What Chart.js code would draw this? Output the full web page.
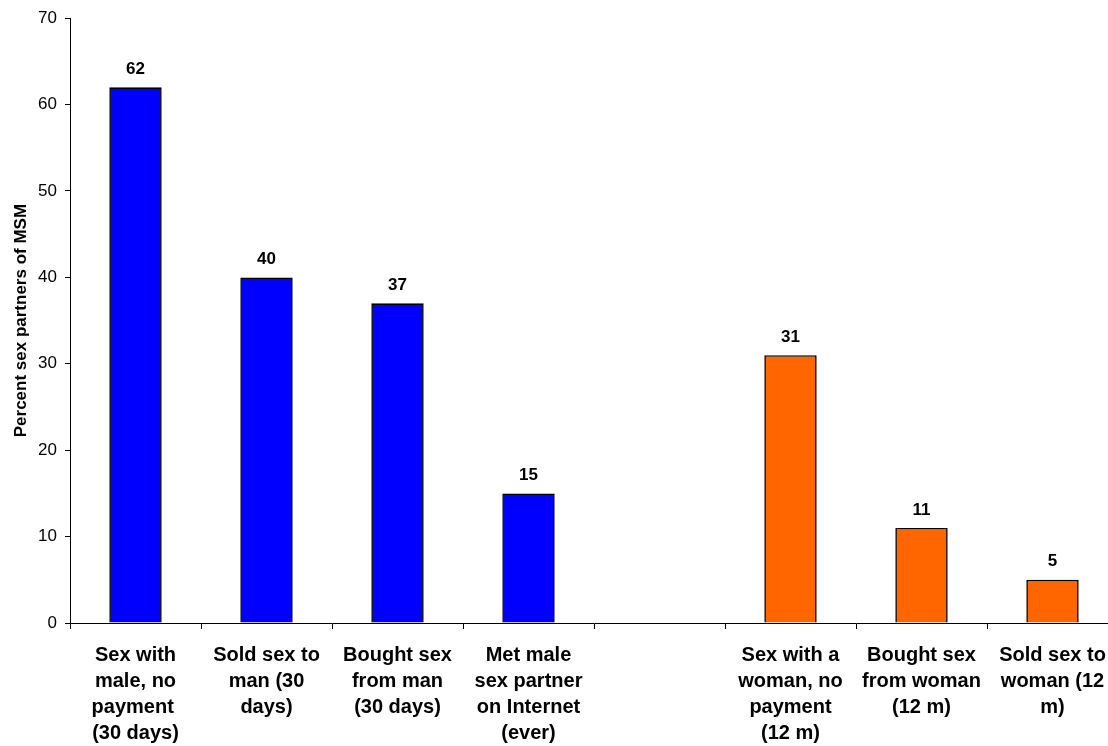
<!DOCTYPE html>
<html>
<head>
<meta charset="utf-8">
<script src="https://cdn.jsdelivr.net/npm/chart.js@4/dist/chart.umd.min.js"></script>
<style>
html,body{margin:0;padding:0;background:#fff;overflow:hidden;}
#wrap{width:1120px;height:746px;}
</style>
</head>
<body>
<div id="wrap"><canvas id="c" width="1120" height="746"></canvas></div>
<script>
const categories = [
  ["Sex with","male, no","payment ","(30 days)"],
  ["Sold sex to","man (30","days)"],
  ["Bought sex","from man","(30 days)"],
  ["Met male","sex partner","on Internet","(ever)"],
  "",
  ["Sex with a","woman, no","payment","(12 m)"],
  ["Bought sex","from woman","(12 m)"],
  ["Sold sex to","woman (12","m)"]
];
const values = [62, 40, 37, 15, null, 31, 11, 5];
const barColors = ["#0000FF","#0000FF","#0000FF","#0000FF","#0000FF","#FF6600","#FF6600","#FF6600"];
const yTitle = "Percent sex partners of MSM";
const yMin = 0, yMax = 70, yStep = 10;

const FONT = "'Liberation Sans', Arial, sans-serif";

const valueLabels = {
  id: 'valueLabels',
  afterDatasetsDraw(chart) {
    const ctx = chart.ctx;
    const meta = chart.getDatasetMeta(0);
    ctx.save();
    ctx.font = "bold 17px " + FONT;
    ctx.fillStyle = "#000";
    ctx.textAlign = "center";
    ctx.textBaseline = "middle";
    meta.data.forEach((bar, i) => {
      const v = values[i];
      if (v === null || v === undefined) return;
      ctx.fillText(String(v), bar.x, bar.y - 18);
    });
    ctx.restore();
  }
};

new Chart(document.getElementById('c'), {
  type: 'bar',
  data: {
    labels: categories,
    datasets: [{
      data: values,
      backgroundColor: barColors,
      borderColor: "#000",
      borderWidth: 1.6,
      barPercentage: 0.4,
      categoryPercentage: 1.0
    }]
  },
  options: {
    responsive: false,
    animation: false,
    devicePixelRatio: 1,
    layout: { padding: { top: 17, right: 2, left: 0, bottom: 0 } },
    plugins: { legend: { display: false }, tooltip: { enabled: false } },
    scales: {
      x: {
        grid: { drawOnChartArea: false, drawTicks: true, tickLength: 6, color: "#000", offset: true },
        border: { color: "#000", width: 1 },
        ticks: {
          autoSkip: false, maxRotation: 0, minRotation: 0,
          color: "#000", padding: 13,
          font: { family: FONT, size: 20, weight: 'bold', lineHeight: 1.3 }
        },
        afterFit(s) { s.height = 123; }
      },
      y: {
        min: yMin, max: yMax,
        grid: { drawOnChartArea: false, drawTicks: true, tickLength: 5, color: "#000" },
        border: { color: "#000", width: 1 },
        ticks: { stepSize: yStep, color: "#000", padding: 8, font: { family: FONT, size: 17 } },
        title: {
          display: true, text: yTitle, color: "#000",
          font: { family: FONT, size: 17, weight: 'bold', lineHeight: 1.2 },
          padding: { top: 11, bottom: 0 }
        },
        afterFit(s) { s.width = 70; }
      }
    }
  },
  plugins: [valueLabels]
});
</script>
</body>
</html>
